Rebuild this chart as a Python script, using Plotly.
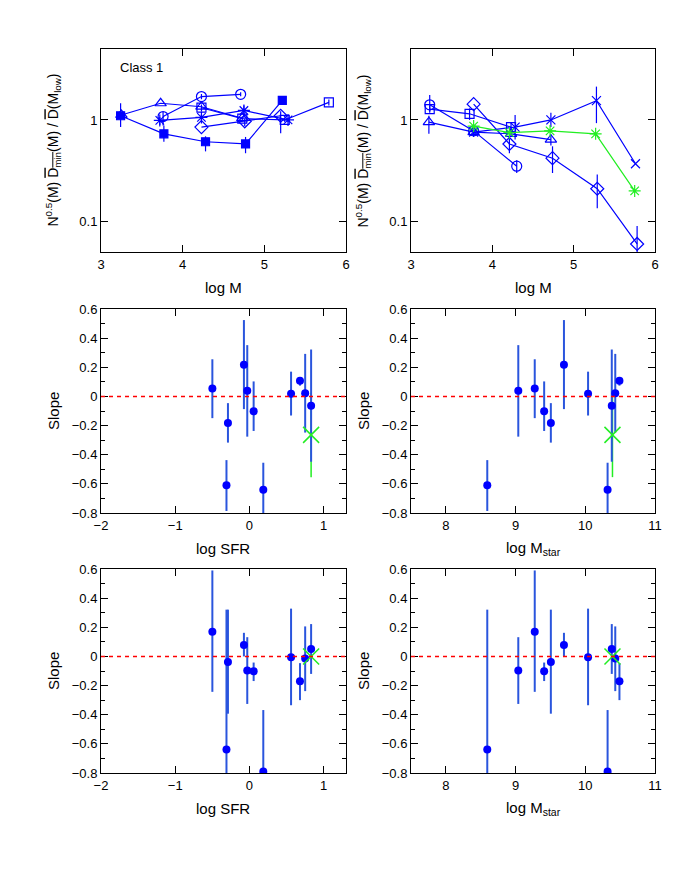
"""
Six-panel figure: normalised nearest-neighbour distance vs log M (top),
and fitted slopes vs log SFR / log M_star (middle and bottom).
"""

import plotly.graph_objects as go

# ---------------------------------------------------------------- top-left
tl_sq_m = [3.24, 3.77, 4.28, 4.77, 5.22]
tl_sq_y = [1.10, 0.73, 0.61, 0.58, 1.56]
tl_sq_up = [0.36, 0.15, 0.08, 0.10, 0.0]
tl_sq_dn = [0.25, 0.12, 0.12, 0.11, 0.0]

tl_tri_m = [3.25, 3.73, 4.23, 4.73]
tl_tri_y = [1.12, 1.46, 1.35, 1.04]

tl_circ_m = [3.76, 4.23, 4.71]
tl_circ_y = [1.08, 1.70, 1.79]
tl_circ_up = [0.12, 0.10, 0.08]
tl_circ_dn = [0.20, 0.10, 0.08]

tl_ast_m = [3.72, 4.23, 4.75, 5.29]
tl_ast_y = [0.99, 1.06, 1.24, 1.00]
tl_ast_up = [0.08, 0.08, 0.15, 0.05]
tl_ast_dn = [0.10, 0.08, 0.20, 0.05]

tl_dia_m = [4.23, 4.76, 5.20]
tl_dia_y = [0.85, 0.97, 1.10]
tl_dia_up = [0.0, 0.05, 0.12]
tl_dia_dn = [0.0, 0.10, 0.36]

tl_osq_m = [4.23, 4.73, 5.25, 5.79]
tl_osq_y = [1.32, 1.03, 1.00, 1.49]
tl_osq_up = [0.10, 0.05, 0.05, 0.10]
tl_osq_dn = [0.10, 0.05, 0.05, 0.10]

# --------------------------------------------------------------- top-right
tr_circ_m = [3.23, 3.77, 4.30]
tr_circ_y = [1.41, 0.78, 0.35]
tr_circ_up = [0.35, 0.05, 0.05]
tr_circ_dn = [0.20, 0.05, 0.05]

tr_sq_m = [3.23, 3.72, 4.23]
tr_sq_y = [1.28, 1.15, 0.85]
tr_sq_up = [0.10, 0.15, 0.10]
tr_sq_dn = [0.10, 0.15, 0.10]

tr_tri_m = [3.22, 3.77, 4.23, 4.72]
tr_tri_y = [0.95, 0.76, 0.73, 0.64]
tr_tri_up = [0.15, 0.06, 0.05, 0.08]
tr_tri_dn = [0.22, 0.06, 0.05, 0.08]

tr_x_m = [3.77, 4.28, 4.72, 5.28, 5.76]
tr_x_y = [0.76, 0.85, 1.00, 1.55, 0.37]
tr_x_up = [0.08, 0.27, 0.18, 0.58, 0.0]
tr_x_dn = [0.08, 0.21, 0.15, 0.62, 0.0]

tr_dia_m = [3.77, 4.21, 4.74, 5.29, 5.78]
tr_dia_y = [1.43, 0.58, 0.42, 0.21, 0.06]
tr_dia_up = [0.0, 0.10, 0.13, 0.08, 0.03]
tr_dia_dn = [0.0, 0.11, 0.12, 0.075, 0.01]

tr_green_m = [3.77, 4.21, 4.71, 5.27, 5.75]
tr_green_y = [0.87, 0.75, 0.78, 0.73, 0.20]

# ----------------------------------------------------- galaxies (slopes)
log_sfr = [-0.50, -0.29, -0.31, -0.075, -0.03, 0.056, 0.186, 0.56, 0.68, 0.75, 0.83]
log_mstar = [9.275, 9.506, 8.594, 9.694, 9.039, 9.41, 10.32, 10.04, 10.49, 10.43, 10.38]

slope_a = [0.055, -0.182, -0.609, 0.218, 0.039, -0.101, -0.641, 0.018, 0.108, 0.021, -0.064]
slope_a_up = [0.20, 0.136, 0.172, 0.306, 0.313, 0.204, 0.186, 0.152, 0.018, 0.271, 0.386]
slope_a_dn = [0.204, 0.135, 0.177, 0.305, 0.315, 0.136, 0.20, 0.149, 0.034, 0.269, 0.384]

slope_b = [0.169, -0.039, -0.638, 0.079, -0.097, -0.102, -0.790, -0.005, -0.171, -0.014, 0.051]
slope_b_up = [0.421, 0.360, 0.959, 0.083, 0.229, 0.060, 0.422, 0.333, 0.125, 0.220, 0.171]
slope_b_dn = [0.412, 0.354, 0.20, 0.079, 0.229, 0.067, 0.10, 0.330, 0.129, 0.224, 0.171]

# the stacked ("all") sample, green cross
green_sfr = [0.83]
green_mstar = [10.39]
green_slope_a = [-0.264]
green_slope_a_err = [0.29]
green_slope_b = [0.0]

# tick positions
log_major = [0.1, 1]
log_minor = [0.05, 0.06, 0.07, 0.08, 0.09, 0.2, 0.3, 0.4, 0.5, 0.6, 0.7,
             0.8, 0.9, 2, 3, 4, 5]

BLUE = "#0000ff"
ERR_BLUE = "#2a55dd"
GREEN = "#22ee22"
FONT = "Liberation Sans, Arial, sans-serif"

W, H = 692, 896
OFF = 8  # the page body adds an 8px margin; pull everything back by it
col_x = [(101 - OFF, 346 - OFF), (411 - OFF, 655 - OFF)]
row_y = [(49 - OFF, 252 - OFF), (309 - OFF, 513 - OFF), (569 - OFF, 773 - OFF)]


def err(up, dn, color=BLUE, thickness=1.2):
    return dict(type="data", symmetric=False, array=up, arrayminus=dn,
                color=color, thickness=thickness, width=0)


fig = go.Figure()


def add_series(ax, x, y, symbol, size, up=None, dn=None, color=BLUE, line_w=1.2):
    kw = {}
    if up is not None:
        kw["error_y"] = err(up, dn, color=color)
    fig.add_trace(go.Scatter(
        x=x, y=y, mode="lines+markers", xaxis="x" + ax, yaxis="y" + ax,
        line=dict(color=color, width=line_w),
        marker=dict(symbol=symbol, size=size, color=color,
                    line=dict(color=color, width=1.2)),
        showlegend=False, **kw))


# top-left
add_series("", tl_sq_m, tl_sq_y, "square", 8, tl_sq_up, tl_sq_dn)
add_series("", tl_tri_m, tl_tri_y, "triangle-up-open", 10)
add_series("", tl_circ_m, tl_circ_y, "circle-open", 10, tl_circ_up, tl_circ_dn)
add_series("", tl_ast_m, tl_ast_y, "asterisk-open", 10, tl_ast_up, tl_ast_dn)
add_series("", tl_dia_m, tl_dia_y, "diamond-open", 10, tl_dia_up, tl_dia_dn)
add_series("", tl_osq_m, tl_osq_y, "square-open", 9, tl_osq_up, tl_osq_dn)

# top-right
add_series("2", tr_circ_m, tr_circ_y, "circle-open", 10, tr_circ_up, tr_circ_dn)
add_series("2", tr_sq_m, tr_sq_y, "square-open", 9, tr_sq_up, tr_sq_dn)
add_series("2", tr_tri_m, tr_tri_y, "triangle-up-open", 10, tr_tri_up, tr_tri_dn)
add_series("2", tr_x_m, tr_x_y, "x-thin-open", 9, tr_x_up, tr_x_dn)
add_series("2", tr_dia_m, tr_dia_y, "diamond-open", 10, tr_dia_up, tr_dia_dn)
add_series("2", tr_green_m, tr_green_y, "asterisk-open", 10, color=GREEN)


def add_slopes(ax, x, y, up, dn, gx, gy, g_err):
    if g_err is not None:
        fig.add_trace(go.Scatter(
            x=gx, y=gy, mode="markers", xaxis="x" + ax, yaxis="y" + ax,
            marker=dict(size=1, color="rgba(0,0,0,0)"),
            error_y=err(g_err, g_err, color=GREEN, thickness=1.5),
            showlegend=False))
    fig.add_trace(go.Scatter(
        x=x, y=y, mode="markers", xaxis="x" + ax, yaxis="y" + ax,
        marker=dict(symbol="circle", size=8, color=BLUE),
        error_y=err(up, dn, color=ERR_BLUE, thickness=2),
        showlegend=False))
    fig.add_trace(go.Scatter(
        x=gx, y=gy, mode="markers", xaxis="x" + ax, yaxis="y" + ax,
        marker=dict(symbol="x-thin-open", size=16, color=GREEN,
                    line=dict(color=GREEN, width=1.5)),
        showlegend=False))


add_slopes("3", log_sfr, slope_a, slope_a_up, slope_a_dn, green_sfr, green_slope_a, green_slope_a_err)
add_slopes("4", log_mstar, slope_a, slope_a_up, slope_a_dn, green_mstar, green_slope_a, green_slope_a_err)
add_slopes("5", log_sfr, slope_b, slope_b_up, slope_b_dn, green_sfr, green_slope_b, None)
add_slopes("6", log_mstar, slope_b, slope_b_up, slope_b_dn, green_mstar, green_slope_b, None)

axis_common = dict(
    showline=True, linecolor="black", linewidth=1, mirror="ticks",
    ticks="inside", ticklen=7, tickcolor="black", tickwidth=1,
    showgrid=False, zeroline=False, automargin=False,
    tickfont=dict(family=FONT, size=13, color="black"),
)

layout = {}
extra = 7
for i in range(6):
    r, c = divmod(i, 2)
    n = "" if i == 0 else str(i + 1)
    x0, x1 = col_x[c]
    y0, y1 = row_y[r]
    xdom = [x0 / W, x1 / W]
    ydom = [1 - y1 / H, 1 - y0 / H]
    xa = dict(axis_common, domain=xdom, anchor="y" + n)
    ya = dict(axis_common, domain=ydom, anchor="x" + n)
    if r == 0:
        xa.update(range=[3, 6], tickvals=[3, 4, 5, 6])
        ya.update(type="log", range=[-1.30103, 0.69897],
                  tickvals=log_major, ticktext=["0.1", "1"])
        # minor log ticks, drawn on overlay axes on both sides
        for side in ["left", "right"]:
            layout["yaxis%d" % extra] = dict(
                type="log", range=[-1.30103, 0.69897], domain=ydom,
                overlaying="y" + n, anchor="x" + n, side=side,
                tickvals=log_minor, showticklabels=False,
                ticks="inside", ticklen=4, tickcolor="black", tickwidth=1,
                showline=False, showgrid=False, zeroline=False,
                automargin=False)
            extra += 1
    else:
        if c == 0:
            xa.update(range=[-2, 1.3], tickvals=[-2, -1, 0, 1])
        else:
            xa.update(range=[7.5, 11], tickvals=[8, 9, 10, 11])
        ya.update(range=[-0.8, 0.6], dtick=0.2, tick0=0,
                  minor=dict(ticks="inside", ticklen=4, tickcolor="black",
                             dtick=0.1, showgrid=False))
    layout["xaxis" + n] = xa
    layout["yaxis" + n] = ya

fig.update_layout(**layout)

# dashed zero line in the slope panels
for n in ["3", "4", "5", "6"]:
    fig.add_shape(type="line", xref="x" + n + " domain", yref="y" + n,
                  x0=0, x1=1, y0=0, y1=0,
                  line=dict(color="red", width=1.5, dash="4px,4px"))

annotations = []
x_titles = ["log M", "log M", "log SFR", "log M<sub>star</sub>",
            "log SFR", "log M<sub>star</sub>"]
ylab_top = ("N<sup>0.5</sup>(M) <span style='text-decoration:overline'>"
            "D<sub>min</sub></span>(M) / "
            "<span style='text-decoration:overline'>D</span>(M<sub>low</sub>)")
for i in range(6):
    r, c = divmod(i, 2)
    x0, x1 = col_x[c]
    y0, y1 = row_y[r]
    annotations.append(dict(
        text=x_titles[i], x=(x0 + x1) / 2 / W, y=1 - (y1 + 35) / H,
        xref="paper", yref="paper", xanchor="center", yanchor="middle",
        showarrow=False, font=dict(family=FONT, size=15, color="black")))
    annotations.append(dict(
        text=ylab_top if r == 0 else "Slope",
        x=(x0 - 48) / W, y=1 - (y0 + y1) / 2 / H,
        xref="paper", yref="paper", xanchor="center", yanchor="middle",
        textangle=-90, showarrow=False,
        font=dict(family=FONT, size=15 if r else 14, color="black")))

annotations.append(dict(
    text="Class 1", x=(118 - OFF) / W, y=1 - (67 - OFF) / H,
    xref="paper", yref="paper",
    xanchor="left", yanchor="middle", showarrow=False,
    font=dict(family=FONT, size=13, color="black")))

fig.update_layout(
    annotations=annotations,
    width=W, height=H,
    margin=dict(l=0, r=0, t=0, b=0),
    paper_bgcolor="white", plot_bgcolor="white",
    showlegend=False,
)

fig.write_html("out.html")
